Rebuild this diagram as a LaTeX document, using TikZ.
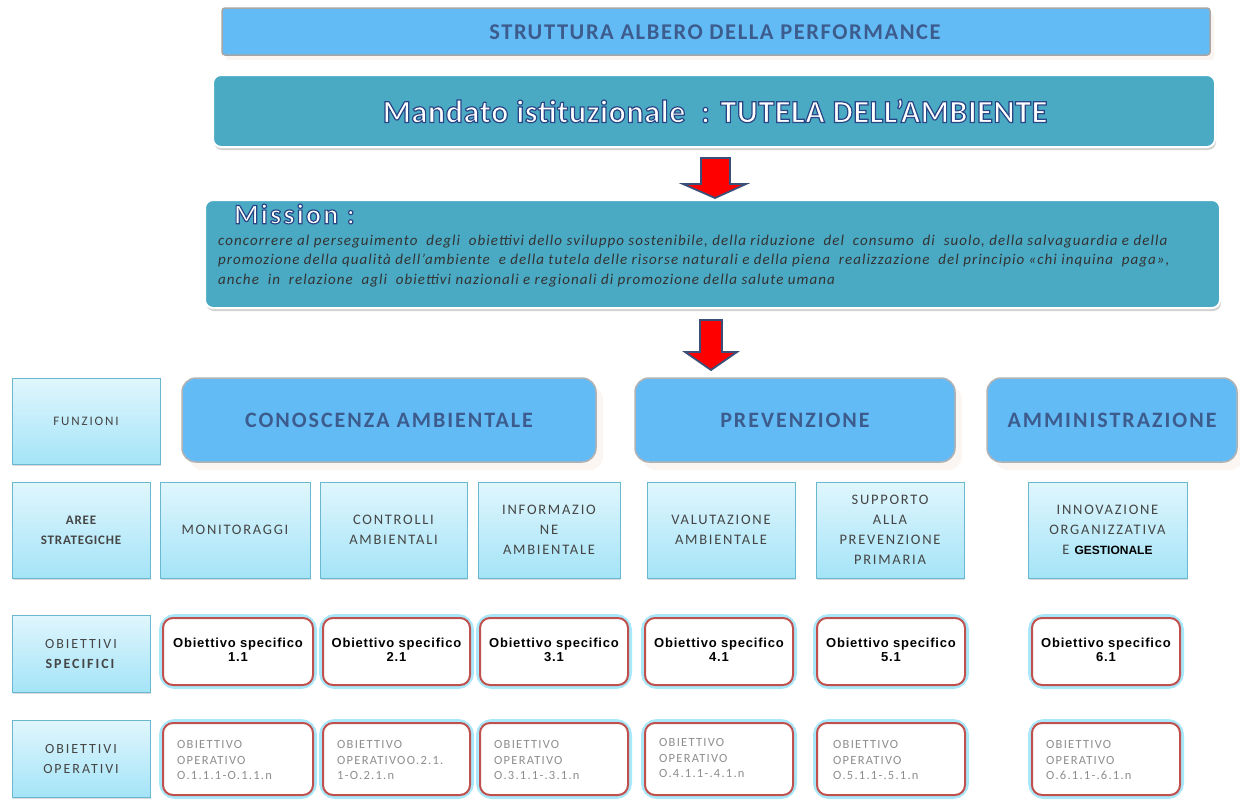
\documentclass[tikz,border=0pt]{standalone}
\usepackage{fontspec}
\setmainfont{Carlito}
\newfontfamily\arialf{Liberation Sans}
\usetikzlibrary{calc,shadows}
\definecolor{skyb}{HTML}{63BBF6}
\definecolor{teal1}{HTML}{4AAAC4}
\definecolor{titletxt}{HTML}{3D5C8E}
\definecolor{outl}{HTML}{2A4585}
\definecolor{lbtop}{HTML}{E0F6FD}
\definecolor{lbbot}{HTML}{A4E4F7}
\definecolor{lbbord}{HTML}{6AB8CF}
\definecolor{redb}{HTML}{C0504D}
\definecolor{glow}{HTML}{A9E8FA}
\definecolor{arrowred}{HTML}{FF0000}
\definecolor{arrowout}{HTML}{3A4F7A}
\definecolor{graytxt}{HTML}{8E8E8E}
\definecolor{smalltxt}{HTML}{454545}
\newcommand{\outlinetext}[1]{\special{pdf:code q 2 Tr 1.2 w 0.165 0.27 0.52 RG 1 1 1 rg}#1\special{pdf:code Q}}
\begin{document}
\begin{tikzpicture}[x=1pt,y=-1pt,
  titlebox/.style={draw=gray!70,line width=1.5pt,fill=skyb,rounded corners=3pt,
     drop shadow={shadow xshift=4pt,shadow yshift=-5pt,fill=brown!8,opacity=1}},
  tealbox/.style={draw=white,line width=2pt,fill=teal1,rounded corners=8pt,
     drop shadow={shadow xshift=1pt,shadow yshift=-3pt,fill=gray!50,opacity=0.7}},
  funcbox/.style={draw=gray!60,line width=1.5pt,fill=skyb,rounded corners=14pt,
     drop shadow={shadow xshift=7pt,shadow yshift=-8pt,fill=brown!7,opacity=1},
     font=\bfseries\fontsize{22}{24}\selectfont\addfontfeature{LetterSpace=9},text=titletxt},
  lbox/.style={draw=lbbord,line width=1pt,top color=lbtop,bottom color=lbbot,
     drop shadow={shadow xshift=1pt,shadow yshift=-2pt,fill=gray!40,opacity=0.7},
     font=\fontsize{14.5}{20}\selectfont\addfontfeature{LetterSpace=12},text=smalltxt,align=center},
  redbox/.style={draw=redb,line width=2pt,fill=white,rounded corners=10pt},
  glowbox/.style={draw=glow,line width=8pt,rounded corners=12pt},
  spectxt/.style={font=\arialf\bfseries\fontsize{13}{13.5}\selectfont\addfontfeature{LetterSpace=6},align=center,text=black},
  optxt/.style={font=\fontsize{12.5}{15.5}\selectfont\addfontfeature{LetterSpace=10},align=left,text=graytxt,anchor=west,inner sep=0pt},
  arr/.style={fill=arrowred,draw=arrowout,line width=1.8pt,line join=miter}
]
\useasboundingbox (0,0) rectangle (1240,803);
% title
\node[titlebox,minimum width=988pt,minimum height=47pt] (title) at (716,31.5) {};
\node[font=\bfseries\fontsize{22.5}{24}\selectfont\addfontfeature{LetterSpace=7},text=titletxt] (titletext) at (715,32) {STRUTTURA ALBERO DELLA PERFORMANCE};
% mandato
\node[tealbox,minimum width=1002pt,minimum height=72pt] (mandato) at (714,111) {};
\node[font=\bfseries\fontsize{32}{34}\selectfont\addfontfeature{LetterSpace=2},inner sep=0pt] (mandtext) at (715,111) {\outlinetext{Mandato istituzionale\ \ : TUTELA DELL’AMBIENTE}};
% arrow 1
\draw[arr] (701,158) -- (730,158) -- (730,184) -- (746,184) -- (715,198) -- (683,184) -- (701,184) -- cycle;
% mission
\node[tealbox,minimum width=1015pt,minimum height=108pt] (mission) at (712.5,254) {};
\node[font=\bfseries\fontsize{28}{30}\selectfont\addfontfeature{LetterSpace=8},inner sep=0pt,anchor=west] (misstitle) at (234,214) {\outlinetext{Mission :}};
\node[anchor=north west,inner sep=0pt,align=left,font=\itshape\fontsize{15}{19.2}\selectfont\addfontfeature{LetterSpace=7},text=black!80] (misstext) at (218,235)
{concorrere al perseguimento\ \ degli\ \ obiettivi dello sviluppo sostenibile, della riduzione\ \ del\ \ consumo\ \ di\ \ suolo, della salvaguardia e della\\
promozione della qualità dell’ambiente\ \ e della tutela delle risorse naturali e della piena\ \ realizzazione\ \ del principio «chi inquina\ \ paga»,\\
anche\ \ in\ \ relazione\ \ agli\ \ obiettivi nazionali e regionali di promozione della salute umana};
% arrow 2
\draw[arr] (700,320) -- (722,320) -- (722,352) -- (737,352) -- (711,370) -- (685,352) -- (700,352) -- cycle;
% row funzioni
\node[lbox,minimum width=148pt,minimum height=86pt,font=\fontsize{13}{14}\selectfont\addfontfeature{LetterSpace=14}] (funz) at (86,421) {FUNZIONI};
\node[funcbox,minimum width=414pt,minimum height=84pt] (conosc) at (389,420) {CONOSCENZA AMBIENTALE};
\node[funcbox,minimum width=320pt,minimum height=84pt] (prev) at (795,420) {PREVENZIONE};
\node[funcbox,minimum width=250pt,minimum height=84pt] (ammin) at (1112,420) {AMMINISTRAZIONE};
% row aree
\node[lbox,minimum width=138pt,minimum height=96pt,font=\bfseries\fontsize{13}{20}\selectfont\addfontfeature{LetterSpace=6}] (aree) at (81,530) {AREE\\STRATEGICHE};
\node[lbox,minimum width=150pt,minimum height=96pt] (mon) at (235,530) {MONITORAGGI};
\node[lbox,minimum width=147pt,minimum height=96pt] (contr) at (393.5,530) {CONTROLLI\\AMBIENTALI};
\node[lbox,minimum width=142pt,minimum height=96pt] (info) at (549,530) {INFORMAZIO\\NE\\AMBIENTALE};
\node[lbox,minimum width=148pt,minimum height=96pt] (valut) at (721,530) {VALUTAZIONE\\AMBIENTALE};
\node[lbox,minimum width=148pt,minimum height=96pt] (supp) at (890,530) {SUPPORTO\\ALLA\\PREVENZIONE\\PRIMARIA};
\node[lbox,minimum width=159pt,minimum height=96pt] (innov) at (1107.5,530) {INNOVAZIONE\\ORGANIZZATIVA\\E {\arialf\bfseries\fontsize{12}{12}\selectfont\color{black}GESTIONALE}};
% row obiettivi specifici
\node[lbox,minimum width=138pt,minimum height=77pt,font=\fontsize{14}{20}\selectfont\addfontfeature{LetterSpace=14}] (obspec) at (81,653.5) {OBIETTIVI\\\textbf{SPECIFICI}};
\foreach \n/\cx/\w in {1/238/150,2/396.5/147,3/554/148,4/719/148,5/891/148,6/1106/148}{%
  \node[glowbox,minimum width=\w pt,minimum height=67pt] (sg\n) at (\cx,651.5) {};
  \node[redbox,minimum width=\w pt,minimum height=67pt] (s\n) at (\cx,651.5) {};
  \node[spectxt] (st\n) at (\cx,650) {Obiettivo specifico\\\n.1};
}
% row obiettivi operativi
\node[lbox,minimum width=138pt,minimum height=77pt,font=\fontsize{14}{20}\selectfont\addfontfeature{LetterSpace=14}] (obop) at (81,758.5) {OBIETTIVI\\OPERATIVI};
\foreach \n/\cx/\w in {1/238/150,2/396.5/147,3/554/148,4/719/148,5/891/148,6/1106/148}{%
  \node[glowbox,minimum width=\w pt,minimum height=72pt] (og\n) at (\cx,759) {};
  \node[redbox,minimum width=\w pt,minimum height=72pt] (o\n) at (\cx,759) {};
}
\node[optxt] (ot1) at ($(o1.west)+(15,1)$) {OBIETTIVO\\OPERATIVO\\O.1.1.1-O.1.1.n};
\node[optxt] (ot2) at ($(o2.west)+(15,1)$) {OBIETTIVO\\OPERATIVOO.2.1.\\1-O.2.1.n};
\node[optxt] (ot3) at ($(o3.west)+(15,1)$) {OBIETTIVO\\OPERATIVO\\O.3.1.1-.3.1.n};
\node[optxt] (ot4) at ($(o4.west)+(15,-1)$) {OBIETTIVO\\OPERATIVO\\O.4.1.1-.4.1.n};
\node[optxt] (ot5) at ($(o5.west)+(17,1)$) {OBIETTIVO\\OPERATIVO\\O.5.1.1-.5.1.n};
\node[optxt] (ot6) at ($(o6.west)+(15,1)$) {OBIETTIVO\\OPERATIVO\\O.6.1.1-.6.1.n};
\end{tikzpicture}
\end{document}
